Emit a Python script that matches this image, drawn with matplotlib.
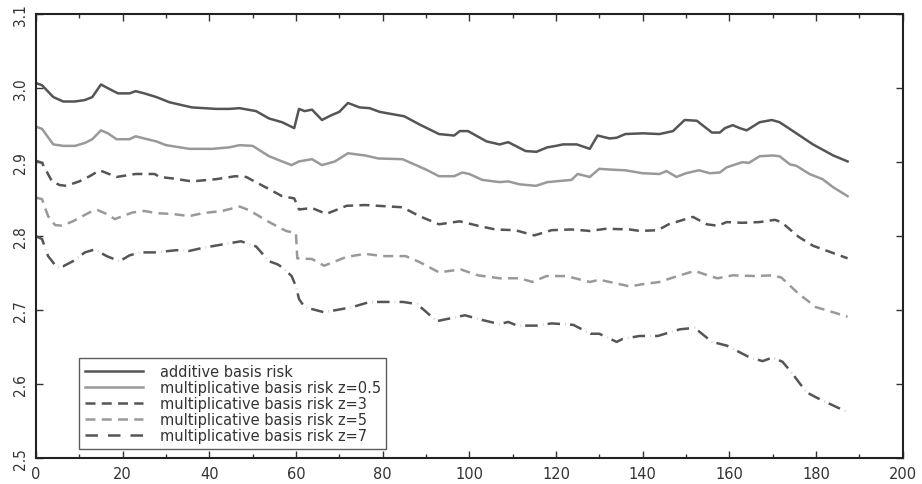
import matplotlib
matplotlib.use("Agg")
import matplotlib.pyplot as plt
from matplotlib.ticker import MultipleLocator

# values
x_add = [0, 1.4, 4, 6.3, 9, 11.3, 13, 15, 16.6, 18.9, 21.6, 23, 25, 27.8, 30.8, 33, 36, 41.6, 44.6, 47,
         50.8, 53.8, 56.8, 59.6, 60.7, 62, 63.7, 66, 68, 70, 72, 74.7, 77, 79.3, 85, 88.5, 93, 96.5, 97.8,
         99.7, 104, 107, 109, 113, 115.5, 118, 120, 121.6, 124.8, 127.8, 129.6, 132.4, 134, 136, 140,
         143.9, 147, 149.7, 152.5, 156, 157.8, 159, 160.8, 162.4, 164, 167, 169.8, 171.6, 174.7, 179.3,
         184, 187.3]
y_add = [3.007, 3.004, 2.988, 2.982, 2.982, 2.984, 2.988, 3.005, 3.000, 2.993, 2.993, 2.996, 2.993, 2.988,
         2.981, 2.978, 2.974, 2.972, 2.972, 2.973, 2.969, 2.959, 2.954, 2.946, 2.972, 2.969, 2.971, 2.957,
         2.963, 2.968, 2.980, 2.974, 2.973, 2.968, 2.962, 2.951, 2.938, 2.936, 2.942, 2.942, 2.928, 2.924,
         2.927, 2.915, 2.914, 2.920, 2.922, 2.924, 2.924, 2.918, 2.936, 2.932, 2.933, 2.938, 2.939, 2.938,
         2.942, 2.957, 2.956, 2.940, 2.940, 2.946, 2.950, 2.946, 2.943, 2.954, 2.957, 2.954, 2.942, 2.924,
         2.909, 2.901]

x_z05 = [0, 1.4, 4, 6.3, 9, 11.3, 13, 15, 16.6, 18.6, 21.6, 23, 25, 27.8, 30, 35.4, 40.7, 44.6, 47, 50,
         53.8, 56.8, 59, 60.7, 63.7, 66, 69, 72, 76, 79, 84.6, 90, 93, 96.5, 98.4, 100, 103, 107, 109,
         111.6, 115.4, 118, 123.6, 125, 127.8, 130, 132.4, 136, 140, 143.9, 145.5, 147.8, 150, 153, 155.5,
         157.8, 159.4, 163, 164.5, 167, 170, 171.6, 174, 175.5, 178.5, 181.5, 184, 187.3]
y_z05 = [2.948, 2.945, 2.924, 2.922, 2.922, 2.926, 2.931, 2.943, 2.939, 2.931, 2.931, 2.935, 2.932, 2.928,
         2.923, 2.918, 2.918, 2.920, 2.923, 2.922, 2.908, 2.901, 2.896, 2.901, 2.904, 2.896, 2.901, 2.912,
         2.909, 2.905, 2.904, 2.890, 2.881, 2.881, 2.886, 2.884, 2.876, 2.873, 2.874, 2.870, 2.868, 2.873,
         2.876, 2.884, 2.880, 2.891, 2.890, 2.889, 2.885, 2.884, 2.888, 2.880, 2.885, 2.889, 2.885, 2.886,
         2.893, 2.900, 2.899, 2.908, 2.909, 2.908, 2.897, 2.895, 2.884, 2.877, 2.866, 2.854]

x_z3 = [0, 1.4, 3.7, 5.5, 7, 10, 12.4, 14.7, 16, 18.6, 23, 27.4, 28.5, 31.5, 36, 41.6, 46, 48.5, 53, 56.8,
        59.6, 60.7, 63.7, 67, 71.7, 76, 84.6, 88.5, 93, 97.8, 102, 106, 110.6, 115, 119, 123.6, 127.8,
        131.6, 137, 139.3, 143.5, 146, 151.6, 154.8, 157.3, 159.4, 163, 167, 170.5, 172, 176, 179.3, 184,
        187.3]
y_z3 = [2.902, 2.899, 2.874, 2.869, 2.868, 2.874, 2.881, 2.889, 2.886, 2.880, 2.884, 2.884, 2.880, 2.878,
        2.874, 2.877, 2.881, 2.880, 2.866, 2.854, 2.851, 2.836, 2.838, 2.830, 2.841, 2.842, 2.839, 2.827,
        2.816, 2.820, 2.814, 2.809, 2.808, 2.801, 2.808, 2.809, 2.807, 2.810, 2.809, 2.807, 2.808, 2.816,
        2.826, 2.816, 2.814, 2.819, 2.818, 2.819, 2.822, 2.819, 2.799, 2.787, 2.777, 2.770]

x_z5 = [0, 1.4, 2.8, 4.4, 6, 8.5, 13, 14.3, 16.3, 18.2, 20, 22.3, 25, 27.8, 31.5, 35.4, 38.4, 43, 47, 49.2,
        51.5, 53.8, 57.7, 60, 60.3, 63.7, 66.5, 71.7, 76, 80, 85.3, 88.5, 93, 98, 102, 107, 111.6, 114.6,
        117.8, 122.4, 127.8, 130, 134, 137, 140, 143.9, 147, 152, 155.5, 157.3, 160.8, 166, 170, 172, 176,
        180, 184, 187.3]
y_z5 = [2.852, 2.850, 2.827, 2.815, 2.814, 2.820, 2.834, 2.835, 2.830, 2.823, 2.827, 2.832, 2.834, 2.831,
        2.830, 2.827, 2.831, 2.834, 2.840, 2.835, 2.827, 2.819, 2.807, 2.804, 2.770, 2.769, 2.760, 2.772,
        2.776, 2.773, 2.773, 2.765, 2.751, 2.755, 2.747, 2.743, 2.743, 2.738, 2.746, 2.746, 2.738, 2.741,
        2.736, 2.732, 2.735, 2.738, 2.744, 2.753, 2.746, 2.743, 2.747, 2.746, 2.747, 2.744, 2.722, 2.704,
        2.697, 2.691]

x_z7 = [0, 1.4, 2.8, 4.8, 6.2, 8.5, 11.3, 13.6, 16.3, 19.3, 21.6, 24, 27.8, 30.8, 32.4, 35.4, 38.4, 42.3,
        47.3, 50.8, 53.8, 55.7, 56.8, 59, 60, 60.7, 62, 66.5, 73, 77, 84.7, 88, 92.5, 99, 102, 107, 109,
        111, 115.6, 119, 124, 128, 130, 134, 135.4, 139.3, 143.5, 148.6, 152, 156, 159.4, 164.7, 167.7,
        170, 172.3, 174.3, 177.8, 180, 184.7, 187.3]
y_z7 = [2.800, 2.796, 2.773, 2.758, 2.759, 2.766, 2.778, 2.782, 2.773, 2.766, 2.774, 2.778, 2.778, 2.780,
        2.781, 2.780, 2.784, 2.788, 2.793, 2.786, 2.766, 2.762, 2.758, 2.746, 2.732, 2.715, 2.704, 2.697,
        2.704, 2.711, 2.711, 2.708, 2.685, 2.693, 2.688, 2.681, 2.684, 2.679, 2.679, 2.682, 2.680, 2.668,
        2.668, 2.657, 2.661, 2.665, 2.665, 2.674, 2.676, 2.657, 2.652, 2.636, 2.631, 2.636, 2.630, 2.616,
        2.589, 2.582, 2.569, 2.562]

labels = ["additive basis risk", "multiplicative basis risk z=0.5", "multiplicative basis risk z=3",
          "multiplicative basis risk z=5", "multiplicative basis risk z=7"]

dark = "#555555"
light = "#999999"
lw = 1.8

fig = plt.figure(figsize=(9.22, 4.85), dpi=100)
ax = fig.add_axes([0.039, 0.0536, 0.940, 0.915])

ax.plot(x_add, y_add, color=dark, lw=lw, label=labels[0])
ax.plot(x_z05, y_z05, color=light, lw=lw, label=labels[1])
ax.plot(x_z3, y_z3, color=dark, lw=lw, linestyle=(0, (4, 2.5)), label=labels[2])
ax.plot(x_z5, y_z5, color=light, lw=lw, linestyle=(0, (4, 2.5)), label=labels[3])
ax.plot(x_z7, y_z7, color=dark, lw=lw, linestyle=(0, (5, 4)), label=labels[4])
# faint dots between the long dashes
ax.plot(x_z7, y_z7, color="#d4d4d4", lw=lw, linestyle=(2, (0.4, 8.6)))

ax.set_xlim(0, 200)
ax.set_ylim(2.5, 3.1)
ax.xaxis.set_major_locator(MultipleLocator(20))
ax.xaxis.set_minor_locator(MultipleLocator(10))
ax.yaxis.set_major_locator(MultipleLocator(0.1))
ax.yaxis.set_major_formatter(plt.FormatStrFormatter("%.1f"))

for s in ax.spines.values():
    s.set_linewidth(1.5)
    s.set_color("#222222")

ax.tick_params(which="both", direction="in", top=True, right=True, color="#333333")
ax.tick_params(which="major", length=5, width=1)
ax.tick_params(which="minor", length=3, width=1)
ax.tick_params(axis="x", labelsize=10.5, pad=6, labelcolor="#333333")
ax.tick_params(axis="y", labelsize=11, pad=6, labelrotation=90, labelcolor="#333333")
for t in ax.get_yticklabels():
    t.set_fontstretch("condensed")
    t.set_va("center")

leg = ax.legend(loc="lower left", bbox_to_anchor=(0.05, 0.02), borderaxespad=0, fontsize=10.5,
                frameon=True, fancybox=False, handlelength=4.0, handletextpad=1.1,
                labelspacing=0.08, borderpad=0.4)
leg.get_frame().set_edgecolor("#333333")
leg.get_frame().set_linewidth(1.0)
for t in leg.get_texts():
    t.set_color("#333333")

fig.savefig("out.png", dpi=100)
